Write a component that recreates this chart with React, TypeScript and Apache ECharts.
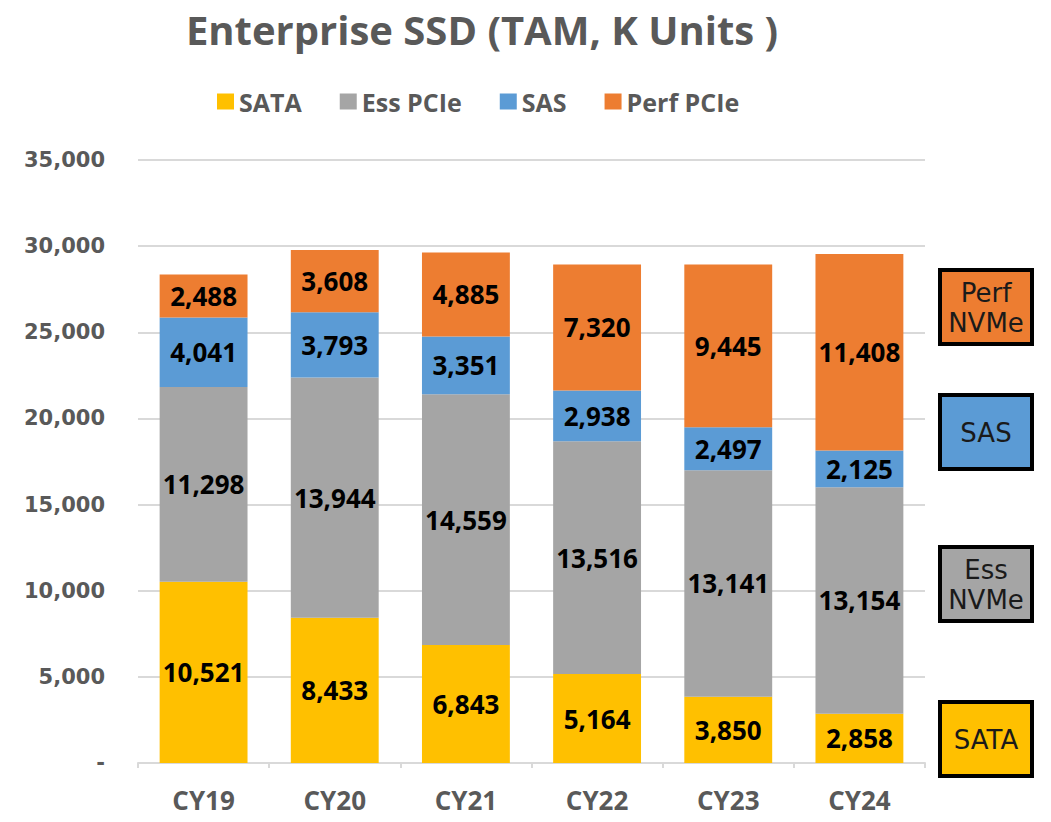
import React, { useEffect, useRef } from "react";
import * as echarts from "echarts";

const categories = ["CY19", "CY20", "CY21", "CY22", "CY23", "CY24"];
const sata = [10521, 8433, 6843, 5164, 3850, 2858];
const essPcie = [11298, 13944, 14559, 13516, 13141, 13154];
const sas = [4041, 3793, 3351, 2938, 2497, 2125];
const perfPcie = [2488, 3608, 4885, 7320, 9445, 11408];
const seriesNames = ["SATA", "Ess PCIe", "SAS", "Perf PCIe"];
const colors = ["#FFC000", "#A5A5A5", "#5B9BD5", "#ED7D31"];
const sideBoxes = [
  { text: "Perf\nNVMe", color: "#ED7D31", y: 268 },
  { text: "SAS", color: "#5B9BD5", y: 393 },
  { text: "Ess\nNVMe", color: "#A5A5A5", y: 545 },
  { text: "SATA", color: "#FFC000", y: 700 },
];

const FONT = "'Open Sans', sans-serif";

export default function App() {
  const ref = useRef<HTMLDivElement>(null);
  useEffect(() => {
    if (!ref.current) return;
    const chart = echarts.init(ref.current, undefined, { renderer: "svg" });
    const data = [sata, essPcie, sas, perfPcie];
    const fmt = (v: number) => v.toLocaleString("en-US");
    chart.setOption({
      animation: false,
      backgroundColor: "#FFFFFF",
      title: {
        text: "Enterprise SSD (TAM, K Units )",
        left: 477,
        textAlign: "center",
        top: 4,
        textStyle: { fontFamily: FONT, fontWeight: "bold", fontSize: 40, color: "#595959" },
      },
      legend: {
        data: seriesNames,
        left: 212,
        top: 84,
        itemWidth: 17,
        itemHeight: 16,
        itemGap: 38,
        icon: "rect",
        textStyle: { fontFamily: FONT, fontWeight: "bold", fontSize: 25, color: "#595959" },
      },
      grid: { left: 138, right: 126, top: 160, bottom: 59 },
      xAxis: {
        type: "category",
        data: categories,
        axisLine: { lineStyle: { color: "#D9D9D9", width: 2 } },
        axisTick: { show: true, length: 5, lineStyle: { color: "#D9D9D9", width: 2 } },
        axisLabel: { fontFamily: FONT, fontWeight: "bold", fontSize: 26, color: "#595959", margin: 24 },
      },
      yAxis: {
        type: "value",
        min: 0,
        max: 35000,
        interval: 5000,
        axisLine: { show: false },
        axisTick: { show: false },
        splitLine: { lineStyle: { color: "#D9D9D9", width: 2 } },
        axisLabel: {
          fontFamily: "'DejaVu Sans', sans-serif",
          fontWeight: "bold",
          fontSize: 21,
          color: "#595959",
          margin: 33,
          formatter: (v: number) => (v === 0 ? "-" : fmt(v)),
        },
      },
      series: data.map((d, i) => ({
        name: seriesNames[i],
        type: "bar",
        stack: "total",
        barWidth: "67%",
        data: d,
        itemStyle: { color: colors[i] },
        label: {
          show: true,
          position: "inside",
          fontFamily: FONT,
          fontWeight: "bold",
          fontSize: 26,
          color: "#000000",
          formatter: (p: any) => fmt(p.value),
        },
      })),
      graphic: sideBoxes.map((b) => ({
        type: "group",
        left: 938,
        top: b.y,
        children: [
          {
            type: "rect",
            shape: { x: 0, y: 0, width: 92, height: 74 },
            style: { fill: b.color, stroke: "#000000", lineWidth: 4 },
          },
          {
            type: "text",
            x: 46,
            y: 38,
            style: {
              text: b.text,
              fill: "#1a1a1a",
              font: "26px 'DejaVu Sans', sans-serif",
              align: "center",
              verticalAlign: "middle",
              lineHeight: 30,
            },
          },
        ],
      })),
    });
    return () => chart.dispose();
  }, []);
  return (
    <div
      ref={ref}
      style={{ position: "absolute", left: 0, top: 0, width: 1051, height: 822 }}
    />
  );
}
